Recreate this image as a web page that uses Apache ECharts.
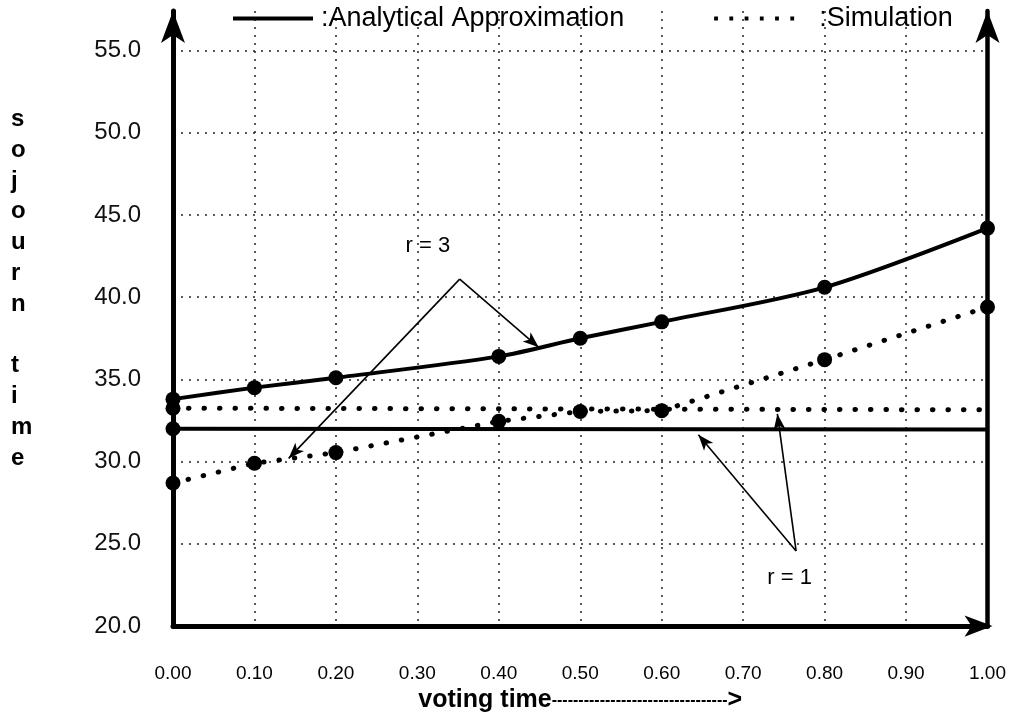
<!DOCTYPE html>
<html>
<head>
<meta charset="utf-8">
<script src="https://cdn.jsdelivr.net/npm/echarts@6/dist/echarts.min.js"></script>
<style>
  html, body { margin: 0; padding: 0; background: #fff; }
  #chart { width: 1009px; height: 718px; }
</style>
</head>
<body>
<div id="chart"></div>
<script>
// ---- data ----
var votingTime = [0.0, 0.1, 0.2, 0.4, 0.5, 0.6, 0.8, 1.0];
var r3Analytical = [33.8, 34.5, 35.1, 36.4, 37.5, 38.5, 40.6, 44.2];
var r3Simulation = [28.7, 29.9, 30.55, 32.45, 33.05, 33.1, 36.2, 39.4];
var r1Time = [0.0, 1.0];
var r1Analytical = [32.0, 31.95];
var r1Simulation = [33.25, 33.15];

var legendNames = [':Analytical Approximation', ':Simulation'];
var yAxisTitle = 's\no\nj\no\nu\nr\nn\n\nt\ni\nm\ne';
var xAxisTitle = 'voting time';

// annotation arrows (data coordinates)
var r3Label = [0.313, 43.1];
var r3Apex = [0.352, 41.1];
var r3Tips = [[0.142, 30.2], [0.449, 36.95]];
var r1Label = [0.757, 22.95];
var r1Apex = [0.765, 24.57];
var r1Tips = [[0.645, 31.64], [0.742, 32.9]];

function pairs(xs, ys) { return xs.map(function (x, i) { return [x, ys[i]]; }); }
function firstOnly(xs, ys) {
  return xs.map(function (x, i) {
    return i === 0 ? [x, ys[i]] : { value: [x, ys[i]], symbol: 'none' };
  });
}

var FONT = 'Liberation Sans';
var solidStyle = { color: '#000', width: 4, type: 'solid' };
var dotStyle = { color: '#000', width: 5, type: [0.5, 15], cap: 'round' };
var arrowLine = { color: '#000', width: 1.6, type: 'solid' };
var gridLine = { color: '#222', width: 1.5, type: [2, 6] };

var chart = echarts.init(document.getElementById('chart'), null, { renderer: 'canvas' });

chart.setOption({
  animation: false,
  backgroundColor: '#fff',
  textStyle: { fontFamily: FONT },
  title: {
    text: yAxisTitle,
    left: 11, top: 104, padding: 0,
    textStyle: { fontFamily: FONT, fontSize: 24, fontWeight: 'bold', lineHeight: 30.8, color: '#000' }
  },
  legend: {
    left: 233, top: 5, padding: 0,
    itemWidth: 80, itemHeight: 5, itemGap: 90,
    selectedMode: false,
    itemStyle: { borderWidth: 0 },
    textStyle: { fontFamily: FONT, fontSize: 27, color: '#000' },
    data: [
      { name: legendNames[0], icon: 'path://M0,0H80V4H0Z', textStyle: { padding: [0, 0, 0, 3] } },
      { name: legendNames[1], icon: 'path://M0,0h4v4h-4zM16,0h4v4h-4zM32,0h4v4h-4zM48,0h4v4h-4zM64,0h4v4h-4zM80,0h4v4h-4z',
        textStyle: { padding: [0, 0, 0, 20] } }
    ]
  },
  grid: { left: 173, right: 14, top: 11, bottom: 88, containLabel: false },
  xAxis: {
    type: 'value', min: 0, max: 1, interval: 0.1,
    name: xAxisTitle, nameLocation: 'middle', nameGap: 61,
    nameTextStyle: {
      fontFamily: FONT, fontSize: 25, fontWeight: 'bold', color: '#000',
      rich: {
        d: { fontFamily: FONT, fontSize: 16, color: '#000', fontWeight: 'bold' },
        g: { fontFamily: FONT, fontSize: 25, fontWeight: 'bold', color: '#000' }
      }
    },
    axisLine: { onZero: false, lineStyle: { color: '#000', width: 5 }, symbol: ['none', 'arrow'], symbolSize: [16, 28], symbolOffset: [0, 5] },
    axisTick: { show: false },
    axisLabel: { margin: 38, fontSize: 19, color: '#000', fontFamily: FONT, formatter: function (v) { return v.toFixed(2); } },
    splitLine: { show: true, showMinLine: false, showMaxLine: false, lineStyle: gridLine }
  },
  yAxis: [{
    type: 'value', min: 20, max: 57.4, interval: 5,
    axisLine: { show: true, onZero: false, lineStyle: { color: '#000', width: 5 }, symbol: ['none', 'arrow'], symbolSize: [18, 32], symbolOffset: [0, 0] },
    axisTick: { show: false },
    axisLabel: { margin: 32, fontSize: 24, color: '#111', fontFamily: FONT, showMaxLabel: false,
      formatter: function (v) { return (v % 5 === 0) ? v.toFixed(1) : ''; } },
    splitLine: { show: true, showMinLine: false, showMaxLine: false, lineStyle: gridLine }
  }, {
    type: 'value', min: 20, max: 57.4, interval: 5, position: 'right',
    axisLine: { show: true, onZero: false, lineStyle: { color: '#000', width: 4.5 }, symbol: ['none', 'arrow'], symbolSize: [18, 32], symbolOffset: [0, 0] },
    axisTick: { show: false }, axisLabel: { show: false }, splitLine: { show: false }
  }],
  series: [
    {
      name: legendNames[0], type: 'line', data: pairs(votingTime, r3Analytical),
      smooth: 0.3, symbol: 'circle', symbolSize: 15, showSymbol: true,
      itemStyle: { color: '#000' }, lineStyle: solidStyle, z: 4,
      markLine: {
        silent: true, symbol: ['none', 'arrow'], symbolSize: [9, 16],
        lineStyle: arrowLine, label: { show: false },
        data: r3Tips.map(function (t) { return [{ coord: r3Apex }, { coord: t }]; })
      },
      markPoint: {
        silent: true, symbol: 'rect', symbolSize: 1, itemStyle: { color: 'rgba(0,0,0,0)' },
        label: { show: true, position: 'inside', color: '#000', fontSize: 22, fontFamily: FONT, formatter: 'r = 3' },
        data: [{ coord: r3Label }]
      }
    },
    {
      name: legendNames[1], type: 'line', data: pairs(votingTime, r3Simulation),
      symbol: 'circle', symbolSize: 15, showSymbol: true,
      itemStyle: { color: '#000' }, lineStyle: dotStyle, z: 4
    },
    {
      name: legendNames[0], type: 'line', data: firstOnly(r1Time, r1Analytical),
      symbol: 'circle', symbolSize: 15, showSymbol: true,
      itemStyle: { color: '#000' }, lineStyle: solidStyle, z: 3,
      markLine: {
        silent: true, symbol: ['none', 'arrow'], symbolSize: [9, 16],
        lineStyle: arrowLine, label: { show: false },
        data: r1Tips.map(function (t) { return [{ coord: r1Apex }, { coord: t }]; })
      },
      markPoint: {
        silent: true, symbol: 'rect', symbolSize: 1, itemStyle: { color: 'rgba(0,0,0,0)' },
        label: { show: true, position: 'inside', color: '#000', fontSize: 22, fontFamily: FONT, formatter: 'r = 1' },
        data: [{ coord: r1Label }]
      }
    },
    {
      name: legendNames[1], type: 'line', data: firstOnly(r1Time, r1Simulation),
      symbol: 'circle', symbolSize: 15, showSymbol: true,
      itemStyle: { color: '#000' }, lineStyle: dotStyle, z: 3
    }
  ]
});

// x axis name with thin dashes and arrow head
chart.setOption({
  xAxis: { name: '{g|' + xAxisTitle + '}{d|' + '-'.repeat(33) + '}{g|>}' }
});
</script>
</body>
</html>
